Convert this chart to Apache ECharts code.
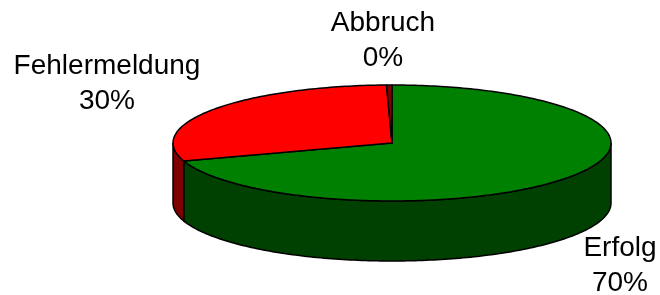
<!DOCTYPE html>
<html>
<head>
<meta charset="utf-8">
<script src="https://cdn.jsdelivr.net/npm/echarts@6/dist/echarts.min.js"></script>
<style>
html, body { margin: 0; padding: 0; background: #fff; }
#main { width: 660px; height: 295px; }
</style>
</head>
<body>
<div id="main"></div>
<script>
// Daten
var categories = ['Erfolg', 'Fehlermeldung', 'Abbruch'];
var values = [70, 29.6, 0.4];
var topColors = ['#008000', '#ff0000', '#800000'];
var sideColors = ['#004000', '#800000', '#400000'];

// Lage der Torte (Ellipse + Höhe)
var cx = 392, cy = 143, rx = 219, ry = 58, depth = 60;
var labelPos = [[620, 266], [107, 84], [383, 41]];

var total = values.reduce(function (s, v) { return s + v; }, 0);
var startAngles = [];
var acc = 0;
values.forEach(function (v) {
    startAngles.push(acc);
    acc += v / total * 360;
});

// Punkte auf dem Ellipsenbogen, Winkel im Uhrzeigersinn ab 12 Uhr
function arc(a, b, dy) {
    var pts = [];
    var n = Math.max(1, Math.ceil(b - a));
    for (var i = 0; i <= n; i++) {
        var t = (a + (b - a) * i / n) * Math.PI / 180;
        pts.push([cx + rx * Math.sin(t), cy - ry * Math.cos(t) + dy]);
    }
    return pts;
}

function renderItem(params, api) {
    var i = params.dataIndex;
    var a = startAngles[i];
    var b = a + api.value(0) / total * 360;
    var children = [];

    // sichtbare Seitenfläche (vordere Hälfte 90°..270°)
    var s = Math.max(a, 90), e = Math.min(b, 270);
    if (e > s) {
        var side = arc(s, e, 0).concat(arc(s, e, depth).reverse());
        children.push({
            type: 'polygon',
            z2: 1,
            shape: { points: side },
            style: { fill: sideColors[i], stroke: '#000', lineWidth: 1.5 }
        });
    }

    // Deckfläche
    var top = [[cx, cy]].concat(arc(a, b, 0));
    children.push({
        type: 'polygon',
        z2: 10,
        shape: { points: top },
        style: { fill: topColors[i], stroke: '#000', lineWidth: 1.5, lineJoin: 'round' }
    });

    // Beschriftung
    var pct = Math.round(api.value(0) / total * 100);
    children.push({
        type: 'text',
        z2: 20,
        x: labelPos[i][0],
        y: labelPos[i][1],
        style: {
            text: categories[i] + '\n' + pct + '%',
            fontSize: 28,
            fontFamily: '"Liberation Sans", Arial, sans-serif',
            fill: '#000',
            align: 'center',
            verticalAlign: 'middle',
            textAlign: 'center',
            textVerticalAlign: 'middle',
            lineHeight: 35
        }
    });

    return { type: 'group', children: children };
}

var myChart = echarts.init(document.getElementById('main'));
var option = {
    backgroundColor: '#fff',
    animation: false,
    series: [
        {
            type: 'custom',
            coordinateSystem: 'none',
            renderItem: renderItem,
            data: values
        }
    ]
};
myChart.setOption(option);
</script>
</body>
</html>
